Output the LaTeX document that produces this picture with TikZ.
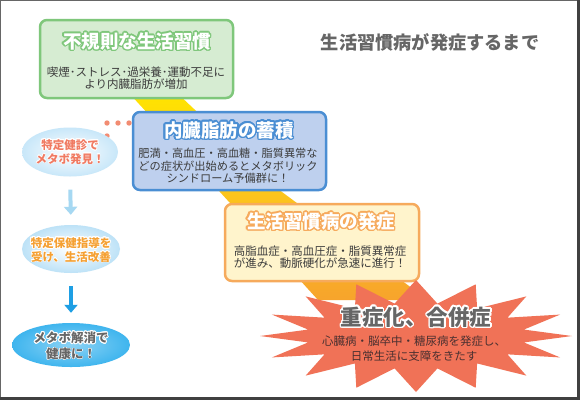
\documentclass[tikz,border=0pt]{standalone}
\usepackage{fontspec}
\setmainfont{Noto Sans CJK JP}
\usepackage[copies]{contour}
\usetikzlibrary{shapes.geometric,arrows.meta}
\definecolor{gfill}{HTML}{D6ECD2}
\definecolor{gline}{HTML}{7FC77B}
\definecolor{bfill}{HTML}{BED0EE}
\definecolor{bline}{HTML}{4A8ED3}
\definecolor{ofill}{HTML}{FFF4CC}
\definecolor{oline}{HTML}{F6AA5C}
\definecolor{starred}{HTML}{F07257}
\definecolor{bodygray}{HTML}{3C3C3C}
\definecolor{headgray}{HTML}{666666}
\definecolor{ribtop}{HTML}{FFE400}
\definecolor{ribmid}{HTML}{FCC41C}
\definecolor{ribbot}{HTML}{F7A42C}
\definecolor{dotc}{HTML}{F28C72}
\definecolor{salmon}{HTML}{F07A62}
\definecolor{orangetxt}{HTML}{F5A032}
\definecolor{lblue}{HTML}{C8E7F9}
\definecolor{mblue}{HTML}{BDE2F7}
\definecolor{dblue}{HTML}{3FB5EE}
\definecolor{arrowl}{HTML}{A6D8F2}
\definecolor{arrowd}{HTML}{1E9FE4}
\definecolor{redbody}{HTML}{4A3030}
\tikzset{
  box/.style={draw, line width=2.5pt, rounded corners=7pt, inner sep=0pt},
  ttl/.style={font=\bfseries\fontsize{18.5}{20}\selectfont, inner sep=0pt},
  body/.style={font=\fontsize{11.5}{12.6}\selectfont, align=center, text=bodygray, inner sep=0pt},
  oval/.style={ellipse, inner sep=0pt},
  otext/.style={font=\bfseries\fontsize{11.5}{14}\selectfont, align=center, inner sep=0pt},
  fatarrow/.style={line width=4pt, -{Triangle[width=13pt,length=8pt]}, shorten <=13pt, shorten >=10pt},
  dotstyle/.style={fill=dotc, draw=none}
}
\begin{document}
\begin{tikzpicture}[x=1pt,y=-1pt]
\useasboundingbox (0,0) rectangle (580,400);
\fill[white] (0,0) rectangle (580,400);

% ribbon
\shade[top color=ribtop, bottom color=ribbot, middle color=ribmid]
  (128,92) -- (176,92) -- (282,192) -- (428,300) -- (318,300) -- (220,192) -- cycle;

% header
\node[font=\bfseries\fontsize{18.2}{20}\selectfont, text=headgray, inner sep=0pt] (head) at (430,42) {生活習慣病が発症するまで};

% green box
\node[box, draw=gline, fill=gfill, minimum width=193pt, minimum height=78pt] (gbox) at (136.5,59) {};
\node[ttl] (gttl) at (137,42) {\contourlength{1.4pt}\contour{gline}{\textcolor{white}{不規則な生活習慣}}};
\node[body] (gbody) at (136,78) {喫煙･ストレス･過栄養･運動不足に\\より内臓脂肪が増加};

% blue box
\node[box, draw=bline, fill=bfill, minimum width=193pt, minimum height=78pt] (bbox) at (229.5,151) {};
\node[ttl] (bttl) at (229,131) {\contourlength{1.4pt}\contour{bline}{\textcolor{white}{内臓脂肪の蓄積}}};
\node[body, font=\fontsize{11.2}{12.6}\selectfont] (bbody) at (228,166) {肥満・高血圧・高血糖・脂質異常な\\どの症状が出始めるとメタボリック\\シンドローム予備群に！};

% orange box
\node[box, draw=oline, fill=ofill, minimum width=194pt, minimum height=77pt] (obox) at (322,242.5) {};
\node[ttl] (ottl) at (321,222) {\contourlength{1.4pt}\contour{oline}{\textcolor{white}{生活習慣病の発症}}};
\node[body] (obody) at (320,257) {高脂血症・高血圧症・脂質異常症\\が進み、動脈硬化が急速に進行！};

% starburst
\coordinate (sc) at (416,336);
\fill[starred] plot[samples at={0,...,31}, variable=\k]
  ({416+cos(\k*11.25)*(iseven(\k)?156:110)}, {336+sin(\k*11.25)*(iseven(\k)?56:33)}) -- cycle;
\node[font=\bfseries\fontsize{21.5}{24}\selectfont, inner sep=0pt] (rttl) at (416,318) {\contourlength{1.5pt}\contour{white}{\textcolor{headgray}{重症化、合併症}}};
\node[body, text=redbody, font=\fontsize{11.5}{15}\selectfont] (rbody) at (414,349) {心臓病・脳卒中・糖尿病を発症し、\\日常生活に支障をきたす};

% dots
\fill[dotstyle] (107,123) circle (2.7);
\fill[dotstyle] (118,123) circle (2.7);
\fill[dotstyle] (129,123) circle (2.7);
\fill[dotstyle] (107,136) circle (2.7);

% left column
\node[oval, shade, shading=radial, inner color=white, outer color=lblue, minimum width=96pt, minimum height=49pt] (e1) at (70,152) {};
\node[otext] (t1) at (70,152) {\contourlength{1pt}\contour{white}{\textcolor{salmon}{特定健診で}}\\\contour{white}{\textcolor{salmon}{メタボ発見！}}};
\node[oval, shade, shading=radial, inner color=white, outer color=mblue, minimum width=98pt, minimum height=48pt] (e2) at (71,249) {};
\node[otext] (t2) at (71,250) {\contourlength{1pt}\contour{white}{\textcolor{orangetxt}{特定保健指導を}}\\\contour{white}{\textcolor{orangetxt}{受け、生活改善}}};
\node[oval, shade, shading=radial, inner color=white!40!dblue, outer color=dblue, minimum width=118pt, minimum height=44pt] (e3) at (71,345) {};
\node[otext, font=\bfseries\fontsize{12.5}{16}\selectfont] (t3) at (71,346) {\contourlength{1pt}\contour{white}{\textcolor{headgray}{メタボ解消で}}\\\contour{white}{\textcolor{headgray}{健康に！}}};

\draw[fatarrow, arrowl] (e1.south) -- (e2.north);
\draw[fatarrow, arrowd] (e2.south) -- (e3.north);

% frame
\draw[color=headgray, line width=1.2pt] (0.6,399) -- (0.6,0.6) -- (579,0.6);
\draw[color=black!75, line width=3pt] (578.5,0) -- (578.5,398.5) -- (0,398.5);
\end{tikzpicture}
\end{document}
